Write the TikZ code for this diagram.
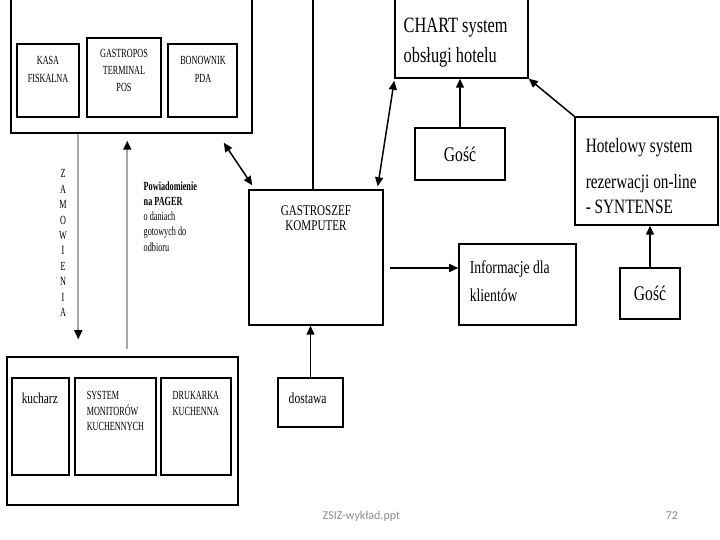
\documentclass[tikz,border=0pt]{standalone}
\usepackage{fontspec}
\setmainfont{Liberation Serif}[FakeStretch=0.75]
\newfontfamily\narrowfont{Liberation Serif}[FakeStretch=0.66]
\newfontfamily\footfont{Carlito}
\usetikzlibrary{arrows.meta,fit,calc}
\newcommand{\fsz}[2]{\fontsize{#1}{#2}\selectfont}

\begin{document}
\begin{tikzpicture}[x=0.5pt,y=-0.5pt,line width=0.75pt,
  box/.style={draw,inner sep=0pt},
  txt/.style={inner sep=0pt,align=left},
  small/.style={txt,font=\narrowfont\fsz{6.2}{#1}},
  >={Triangle[length=4.5pt,width=4pt]},
  feed/.style={draw=black!35,line width=0.8pt,-{Triangle[length=4.5pt,width=4pt,color=black]}}]
\useasboundingbox (0,0) rectangle (720,540);
\foreach \n/\xa/\ya/\xb/\yb in {pos/11/-5/252/133,kasa/17/44/79/117,terminal/87/38/161/117,pda/168/44/237/117,
  kitchen/7/357/238/505,kucharz/12/378/69/475,monitory/75/378/156/475,drukarka/161/378/231/475,
  gastro/249/190/383/325,chart/395/-5/528/78,gosc/415/128/505/180,hotel/575/117/718/225,
  goscb/620/268/680/319,info/459/244/576/325,dostawa/278/378/343/427}
  \node[box,fit={(\xa,\ya) (\xb,\yb)}] (\n) {};

\node[small=9,anchor=north,align=center] (kasa-t) at (48,56) {KASA\\FISKALNA};
\node[small=8.3,anchor=north,align=center] (terminal-t) at (124,49) {GASTROPOS\\TERMINAL\\POS};
\node[small=9,anchor=north,align=center] (pda-t) at (203,56) {BONOWNIK\\PDA};
\node[txt,anchor=north west,font=\fsz{7.6}{9}] (kucharz-t) at (21,392) {kucharz};
\node[small=7.75,anchor=north west] (monitory-t) at (86,391) {SYSTEM\\MONITORÓW\\KUCHENNYCH};
\node[small=7.75,anchor=north west] (drukarka-t) at (172,391) {DRUKARKA\\KUCHENNA};
\node[txt,anchor=north,align=center,font=\fsz{7.4}{7.5}] (gastro-t) at (316,205) {GASTROSZEF\\KOMPUTER};
\node[txt,anchor=north west,font=\fsz{10.9}{15}] (chart-t) at (403,17) {CHART system\\obsługi hotelu};
\node[txt,anchor=north west,font=\fsz{10.2}{12.5}] (hotel-t) at (585,138) {Hotelowy system\\[5.5pt]rezerwacji on-line\\- SYNTENSE};
\node[txt,anchor=north west,font=\fsz{9.1}{14}] (info-t) at (469,260) {Informacje dla\\klientów};
\node[txt,font=\fsz{10.4}{12}] (gosc-t) at (gosc) {Gość};
\node[txt,font=\fsz{10.4}{12}] (goscb-t) at (goscb) {Gość};
\node[txt,anchor=north west,font=\fsz{7.7}{9}] (dostawa-t) at (288,392) {dostawa};
\node[small=7.6,anchor=north west] (pager-t) at (143,181) {\textbf{Powiadomienie}\\\textbf{na PAGER}\\o daniach\\gotowych do\\odbioru};
\node[small=7.7,anchor=north,align=center] (zam-t) at (63,169) {Z\\A\\M\\O\\W\\I\\E\\N\\I\\A};
\node[anchor=base west,inner sep=0pt,font=\footfont\fsz{6}{7},text=black!45] (foot-t) at (322,520) {ZSIZ-wykład.ppt};
\node[anchor=base west,inner sep=0pt,font=\footfont\fsz{6}{7},text=black!45] (page-t) at (665,520) {72};

\coordinate (gtop) at (313,-5);
\draw (gastro.north -| gtop) -- (gtop);
\draw[<->] ($(pos.south east)+(-29,9)$) -- ($(gastro.north west)+(4,-4)$);
\draw[<->] ($(chart.south west)+(0,2)$) -- ($(gastro.north east)+(-6,-3)$);
\draw[feed,shorten >=8.5pt] ($(pos.south west)+(68,0)$) -- ($(kitchen.north west)+(72,0)$);
\draw[feed,shorten <=3.5pt,shorten >=3.5pt] ($(kitchen.north west)+(121,0)$) -- ($(pos.south west)+(117,0)$);
\draw[->] (gosc.north) -- (gosc.north |- chart.south);
\draw[->] (hotel.north west) -- (chart.south east);
\draw[->] (goscb.north) -- (goscb.north |- hotel.south);
\path ($(gastro.east)+(6,10.5)$) coordinate (ginfo);
\draw[->] (ginfo) -- (ginfo -| info.west);
\draw[->] (dostawa.north) -- (dostawa.north |- gastro.south);
\end{tikzpicture}
\end{document}
